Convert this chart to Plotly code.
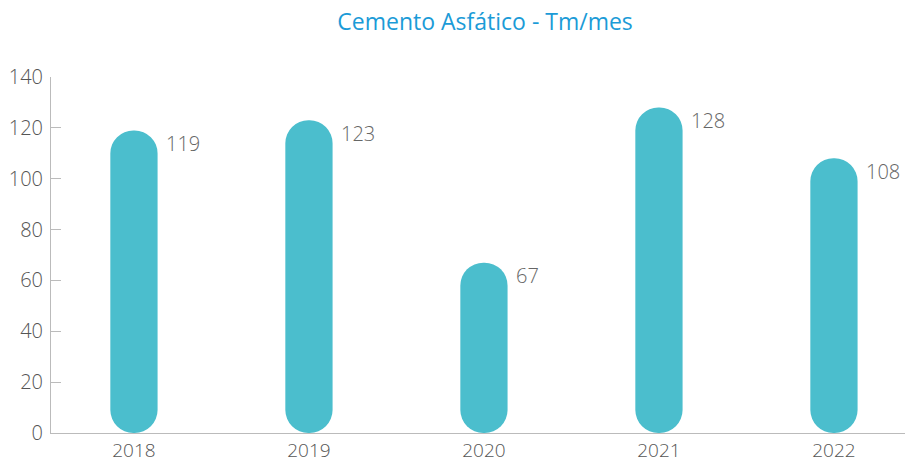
import plotly.graph_objects as go

years = ["2018", "2019", "2020", "2021", "2022"]
values = [119, 123, 67, 128, 108]
y_ticks = [0, 20, 40, 60, 80, 100, 120, 140]

bar_color = "#4bbecd"
font_family = "'Open Sans', 'Noto Sans', sans-serif"

fig = go.Figure()
fig.add_trace(go.Bar(
    x=years, y=values, base=[0] * len(values),
    width=0.27, marker=dict(color=bar_color, line=dict(width=0), cornerradius="50%"),
    hoverinfo="skip", showlegend=False))

for i, v in enumerate(values):
    fig.add_annotation(x=i, y=v, text=str(v), showarrow=False,
                       xanchor="left", yanchor="middle", xshift=30, yshift=-13,
                       font=dict(size=20, color="#666666", family=font_family, weight=300))

fig.update_layout(
    width=905, height=459,
    margin=dict(l=51, r=0, t=77, b=26),
    paper_bgcolor="white", plot_bgcolor="white",
    barmode="overlay",
    title=dict(text="Cemento Asfático - Tm/mes", x=0.536, xanchor="center",
               y=0.952, yanchor="middle",
               font=dict(size=23, color="#1b9bd7", family=font_family)),
    xaxis=dict(type="category", range=[-0.474, 4.406], showline=True,
               linecolor="#bbbbbb", linewidth=1, ticks="", showgrid=False,
               ticklabelstandoff=0, automargin=False,
               tickfont=dict(size=19, color="#555555", family=font_family, weight=300)),
    yaxis=dict(range=[0, 140], tickvals=y_ticks, showline=True, linecolor="#bbbbbb",
               linewidth=1, ticks="inside", ticklen=10, tickcolor="#bbbbbb",
               showgrid=False, zeroline=False, ticklabelstandoff=3, automargin=False,
               tickfont=dict(size=20, color="#555555", family=font_family, weight=300)),
)

fig.write_html("out.html", config={"displayModeBar": False},
               post_script="document.body.style.margin='0px';")
